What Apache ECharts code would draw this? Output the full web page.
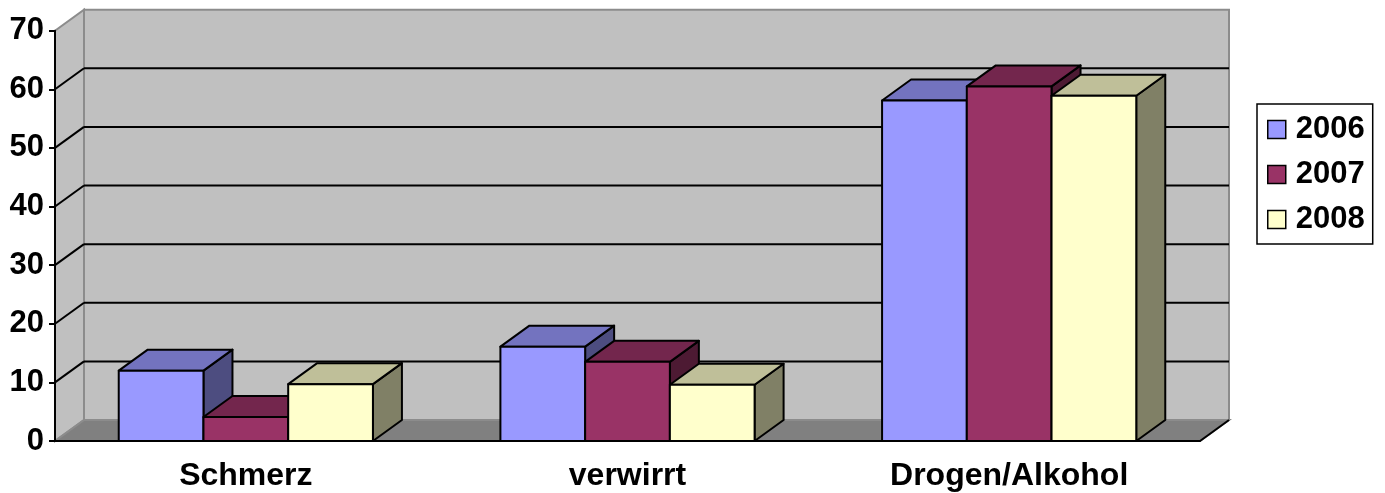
<!DOCTYPE html>
<html>
<head>
<meta charset="utf-8">
<script src="https://cdn.jsdelivr.net/npm/echarts@6/dist/echarts.min.js"></script>
<style>
    html,body{margin:0;padding:0;background:#fff;}
    #myChart{width:1385px;height:493px;}
</style>
</head>
<body>
<div id="myChart"></div>
<script>
// Kategorien + Werte
var categories = ['Schmerz', 'verwirrt', 'Drogen/Alkohol'];
var years = ['2006', '2007', '2008'];
var values2006 = [12.0, 16.1, 58.1];
var values2007 = [4.1, 13.5, 60.5];
var values2008 = [9.7, 9.6, 58.9];
var yTicks = [0, 10, 20, 30, 40, 50, 60, 70];

// front / top / side
var colors = {
    '2006': ['#9999FF', '#7373BF', '#4D4D80'],
    '2007': ['#993366', '#73264D', '#4D1A33'],
    '2008': ['#FFFFCC', '#BFBF99', '#808066']
};
var DX = 29, DY = 21;   // Tiefe der 3D-Darstellung
var FONT = "'Liberation Sans', Arial, sans-serif";

var myChart = echarts.init(document.getElementById('myChart'));

// Wände, Boden und Gitterlinien
function renderFrame(params, api) {
    var cs = params.coordSys;
    var x0 = cs.x, x1 = cs.x + cs.width;
    var yB = api.coord([0, 0])[1];
    var yT = api.coord([0, 70])[1];
    var children = [];
    // Rückwand
    children.push({type: 'polygon', shape: {points: [[x0 + DX, yT - DY], [x1 + DX, yT - DY], [x1 + DX, yB - DY], [x0 + DX, yB - DY]]},
        style: {fill: '#C0C0C0', stroke: '#8C8C8C', lineWidth: 2}});
    // linke Wand
    children.push({type: 'polygon', shape: {points: [[x0, yB], [x0, yT], [x0 + DX, yT - DY], [x0 + DX, yB - DY]]},
        style: {fill: '#C0C0C0', stroke: '#8C8C8C', lineWidth: 2}});
    // Boden
    children.push({type: 'polygon', shape: {points: [[x0, yB], [x1, yB], [x1 + DX, yB - DY], [x0 + DX, yB - DY]]},
        style: {fill: '#808080', stroke: '#8C8C8C', lineWidth: 2}});
    children.push({type: 'line', shape: {x1: x1, y1: yB, x2: x1 + DX, y2: yB - DY}, style: {stroke: '#000', lineWidth: 2}});
    for (var i = 1; i < yTicks.length - 1; i++) {
        var y = api.coord([0, yTicks[i]])[1];
        children.push({type: 'line', shape: {x1: x0 + DX, y1: y - DY, x2: x1 + DX, y2: y - DY}, style: {stroke: '#000', lineWidth: 2}});
        children.push({type: 'line', shape: {x1: x0, y1: y, x2: x0 + DX, y2: y - DY}, style: {stroke: '#000', lineWidth: 2}});
    }
    return {type: 'group', children: children};
}

function makeBarSeries(name, values, s) {
    var c = colors[name];
    return {
        name: name,
        type: 'custom',
        z: 2,
        itemStyle: {color: c[0]},
        data: values.map(function (v, i) { return [i, v]; }),
        renderItem: function (params, api) {
            var top = api.coord([api.value(0), api.value(1)]);
            var bottom = api.coord([api.value(0), 0]);
            var band = api.size([1, 0])[0];
            var bw = band * 0.222;
            var xL = top[0] - 1.5 * bw + s * bw;
            var xR = xL + bw;
            var yT = top[1], yB = bottom[1];
            var st = {stroke: '#000', lineWidth: 2, lineJoin: 'round'};
            return {type: 'group', children: [
                {type: 'polygon', shape: {points: [[xR, yT], [xR + DX, yT - DY], [xR + DX, yB - DY], [xR, yB]]},
                    style: Object.assign({fill: c[2]}, st)},
                {type: 'polygon', shape: {points: [[xL, yT], [xL + DX, yT - DY], [xR + DX, yT - DY], [xR, yT]]},
                    style: Object.assign({fill: c[1]}, st)},
                {type: 'rect', shape: {x: xL, y: yT, width: bw, height: yB - yT},
                    style: Object.assign({fill: c[0]}, st)}
            ]};
        }
    };
}

var option = {
    animation: false,
    textStyle: {fontFamily: FONT},
    grid: {left: 55, right: 185, top: 30.7, bottom: 52},
    legend: {
        orient: 'vertical',
        left: 1257,
        top: 104,
        padding: [10, 8, 9, 10],
        itemWidth: 18,
        itemHeight: 18,
        itemGap: 14,
        borderColor: '#000',
        borderWidth: 1.5,
        icon: 'rect',
        data: years.map(function (y) {
            return {name: y, itemStyle: {color: colors[y][0], borderColor: '#000', borderWidth: 1.5}};
        }),
        textStyle: {fontFamily: FONT, fontWeight: 'bold', fontSize: 31, color: '#000', padding: [0, 0, 0, 5]}
    },
    xAxis: {
        type: 'category',
        data: categories,
        z: 3,
        axisLine: {lineStyle: {color: '#000', width: 2}},
        axisTick: {length: 8, lineStyle: {color: '#000', width: 2}},
        axisLabel: {margin: 19, color: '#000', fontWeight: 'bold', fontSize: 32, fontFamily: FONT},
        splitLine: {show: false}
    },
    yAxis: {
        type: 'value',
        min: 0,
        max: 70,
        interval: 10,
        z: 3,
        axisLine: {show: true, lineStyle: {color: '#000', width: 2}},
        axisTick: {show: true, length: 6, lineStyle: {color: '#000', width: 2}},
        axisLabel: {margin: 11, color: '#000', fontWeight: 'bold', fontSize: 31, fontFamily: FONT},
        splitLine: {show: false}
    },
    series: [
        {
            name: 'frame',
            type: 'custom',
            z: 1,
            silent: true,
            data: [[0, 0]],
            renderItem: renderFrame
        },
        makeBarSeries('2006', values2006, 0),
        makeBarSeries('2007', values2007, 1),
        makeBarSeries('2008', values2008, 2)
    ]
};
myChart.setOption(option);
</script>
</body>
</html>
